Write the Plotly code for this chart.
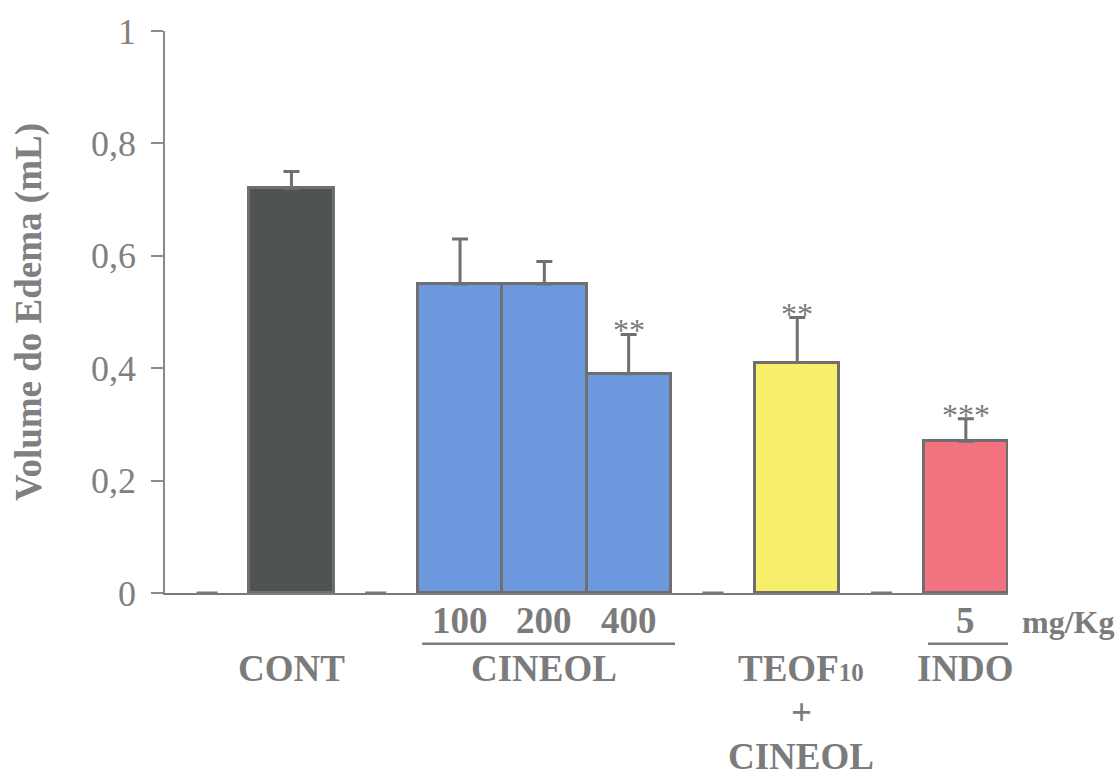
import plotly.graph_objects as go

# ---- data ----
group_labels = ["CONT", "CINEOL", "CINEOL", "CINEOL", "TEOF10 + CINEOL", "INDO"]
dose_labels = ["", "100", "200", "400", "", "5"]
slot = [1, 3, 4, 5, 7, 9]                      # category slots on the x axis
edema = [0.72, 0.55, 0.55, 0.39, 0.41, 0.27]   # mL
sem = [0.03, 0.08, 0.04, 0.07, 0.08, 0.04]     # upper error
signif = ["", "", "", "**", "**", "***"]
empty_slots = [0, 2, 6, 8]                     # zero placeholders
empty_values = [0, 0, 0, 0]
bar_colors = ["#4f5351", "#6c99de", "#6c99de", "#6c99de", "#f7ee6a", "#f2737f"]
y_ticks = [0, 0.2, 0.4, 0.6, 0.8, 1]
teof_lines = ["TEOF<span style='font-size:25px'>10</span>", "+", "CINEOL"]

GRAY = "#7b7b7b"
FONT = "Liberation Serif"
LBL = dict(family=FONT, size=37, color=GRAY, weight="bold")

fig = go.Figure()
fig.add_trace(go.Bar(
    x=slot, y=edema, width=1,
    marker=dict(color=bar_colors, line=dict(color="#6f6f6f", width=3)),
    error_y=dict(type="data", array=sem, arrayminus=[0] * len(sem), symmetric=False,
                 color="#707070", thickness=3, width=8),
    showlegend=False,
))
fig.add_trace(go.Scatter(
    x=empty_slots, y=empty_values, mode="markers",
    marker=dict(symbol="line-ew", size=15, line=dict(color="#777777", width=3)),
    showlegend=False, cliponaxis=False,
))

# significance asterisks
for s, v, e, t in zip(slot, edema, sem, signif):
    if t:
        fig.add_annotation(x=s, y=v + e, text=t, showarrow=False, xanchor="center",
                           yanchor="middle", yshift=4,
                           font=dict(family=FONT, size=32, color=GRAY))

# dose labels
for s, d in zip(slot, dose_labels):
    if d:
        fig.add_annotation(x=s, y=-0.0496, xref="x", yref="paper", text=d, showarrow=False,
                           xanchor="center", yanchor="middle", font=LBL)

# group labels and lines
fig.add_annotation(x=slot[0], y=-0.135, xref="x", yref="paper", text="CONT", showarrow=False,
                   xanchor="center", yanchor="middle", font=LBL)
cin = [s for s, g in zip(slot, group_labels) if g == "CINEOL"]
fig.add_annotation(x=sum(cin) / len(cin), y=-0.135, xref="x", yref="paper", text="CINEOL",
                   showarrow=False, xanchor="center", yanchor="middle", font=LBL)
fig.add_shape(type="line", xref="x", yref="paper", x0=min(cin) - 0.45, x1=max(cin) + 0.55,
              y0=-0.0905, y1=-0.0905, line=dict(color=GRAY, width=2.5))
for i, line in enumerate(teof_lines):
    fig.add_annotation(x=slot[4] + 0.05, y=-0.135, xref="x", yref="paper",
                       yanchor="middle", xanchor="center", yshift=-44 * i,
                       text=line, showarrow=False, font=LBL)
fig.add_annotation(x=slot[5], y=-0.135, xref="x", yref="paper", text="INDO", showarrow=False,
                   xanchor="center", yanchor="middle", font=LBL)
fig.add_shape(type="line", xref="x", yref="paper", x0=slot[5] - 0.45, x1=slot[5] + 0.55,
              y0=-0.0905, y1=-0.0905, line=dict(color=GRAY, width=2.5))
fig.add_annotation(x=1.071, y=-0.052, xref="paper", yref="paper", text="mg/Kg", showarrow=False,
                   xanchor="center", yanchor="middle",
                   font=dict(family=FONT, size=32, color=GRAY, weight="bold"))

fig.update_layout(
    width=1119, height=777,
    margin=dict(l=165, r=111, t=29, b=184),
    paper_bgcolor="white", plot_bgcolor="white",
    separators=",.",
    bargap=0,
    xaxis=dict(range=[-0.5, 9.5], showgrid=False, zeroline=False,
               showline=True, linecolor="#7a7a7a", linewidth=2,
               showticklabels=False, ticks=""),
    yaxis=dict(range=[0, 1], tickvals=y_ticks, showgrid=False, zeroline=False,
               showline=True, linecolor="#8a8a8a", linewidth=1.5,
               ticks="outside", ticklen=12, tickcolor="#8a8a8a", tickwidth=1.5,
               ticklabelstandoff=8,
               tickfont=dict(family=FONT, size=36, color="#808080"),
               title=dict(text="Volume do Edema (mL)", standoff=38,
                          font=dict(family=FONT, size=37, color="#808080", weight="bold"))),
)
fig.write_html("out.html")
